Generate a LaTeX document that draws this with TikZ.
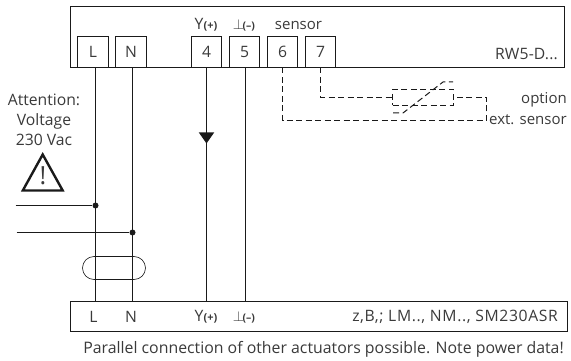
\documentclass[tikz,border=0pt]{standalone}
\usepackage{fontspec}
\setmainfont{Open Sans}
\usetikzlibrary{shapes.geometric}
\definecolor{ink}{HTML}{1A1A1A}
\definecolor{txt}{HTML}{3A3A3A}
\tikzset{
  wire/.style={draw=ink,line width=1.2pt},
  dashw/.style={draw=ink,line width=1pt,dash pattern=on 6pt off 3.5pt},
  term/.style={draw=ink,line width=1pt,minimum width=30pt,minimum height=31pt,inner sep=0pt,text=txt,font=\fontsize{15.7}{17}\selectfont},
  lab/.style={inner sep=0pt,text=txt,font=\fontsize{15.7}{20}\selectfont},
  small/.style={lab,font=\fontsize{15}{20}\selectfont},
  housing/.style={draw=ink,line width=1.2pt,inner sep=0pt},
  dot/.style={circle,fill=ink,inner sep=0pt,minimum size=6pt}
}
\newcommand{\plusm}{\textbf{\fontsize{11}{10}\selectfont(+)}}
\newcommand{\minusm}{{\fontsize{15}{15}\selectfont$\perp$}\kern-1.5pt\textbf{\fontsize{10.5}{10}\selectfont(–)}}
\begin{document}
\begin{tikzpicture}[x=1pt,y=-1pt]
\useasboundingbox (0,0) rectangle (571,361);
\node[housing,minimum width=494pt,minimum height=61pt] (top) at (317.5,37) {};
\node[housing,minimum width=497pt,minimum height=30pt] (bot) at (319,316.5) {};
\foreach \n/\x/\t/\w in {tL/93/L/31,tN/131/N/31,t4/206.5/4/30,t5/244.5/5/30,t6/282.5/6/30,t7/320.5/7/30}
  \node[term,minimum width=\w pt] (\n) at (\x,52) {\t};
\coordinate (aL) at (95.5,67.5);
\coordinate (aN) at (132.5,67.5);
\coordinate (aY) at (206.5,67.5);
\coordinate (aM) at (245.5,67.5);
\coordinate (bL) at (95.5,301.5);
\coordinate (bN) at (132.5,301.5);
\coordinate (bY) at (206.5,301.5);
\coordinate (bM) at (245.5,301.5);
\draw[wire] (aL) -- (bL);
\draw[wire] (aN) -- (bN);
\draw[wire] (aY) -- (bY);
\draw[wire] (aM) -- (bM);
\node[isosceles triangle,isosceles triangle apex angle=70,shape border rotate=-90,fill=ink,inner sep=0pt,minimum height=11pt,minimum width=14pt] (arr) at (206.5,136.5) {};
% supply
\node[dot] (jL) at (95.5,205.5) {};
\node[dot] (jN) at (132.5,232.5) {};
\coordinate (sL) at (15.5,205.5);
\coordinate (sN) at (16.5,232.5);
\draw[wire] (sL) -- (jL);
\draw[wire] (sN) -- (jN);
\node[draw=ink,line width=0.6pt,rounded corners=11.5pt,minimum width=63pt,minimum height=23pt,inner sep=0pt] (clamp) at (114,268) {};
% sensor
\coordinate (s6) at (282.5,67.5);
\coordinate (s7) at (320.5,67.5);
\coordinate (a6) at (282.5,120.5);
\coordinate (a7) at (320.5,97.5);
\node[dashw,minimum width=61pt,minimum height=16pt,inner sep=0pt] (ntc) at (423,97.5) {};
\coordinate (c1) at (486.5,120.5);
\coordinate (c2) at (486.5,97.5);
\draw[dashw] (s6) -- (a6) -- (c1) -- (c2) -- (ntc.east);
\draw[dashw] (s7) -- (a7) -- (ntc.west);
\coordinate (d1) at (393,113);
\coordinate (d2) at (403,113);
\coordinate (d3) at (443,82);
\coordinate (d4) at (453,82);
\draw[dashw] (d1) -- (d2) -- (d3) -- (d4);
% warning
\coordinate (w1) at (42.7,154.5);
\coordinate (w2) at (22.8,190.5);
\coordinate (w3) at (62.7,190.5);
\draw[draw=ink,line width=2.4pt,miter limit=10] (w1) -- (w2) -- (w3) -- cycle;
\node[lab,font=\fontsize{25}{25}\selectfont] (bang) at (43,176) {!};
% texts
\node[lab,align=center] (att) at (44,119.5) {Attention:\\Voltage\\230 Vac};
\node[lab] (y1) at (206,25) {Y\plusm};
\node[lab] (m1) at (244,25) {\minusm};
\node[small] (sens) at (298.5,25) {sensor};
\node[lab,anchor=east] (rw) at (558,54) {\addfontfeature{LetterSpace=1}RW5-D...};
\node[small,anchor=east] (opt) at (567,99.5) {option};
\node[small,anchor=east] (ext) at (567,120) {ext. sensor};
\node[lab] (l2) at (93.5,317) {L};
\node[lab] (n2) at (131,317) {N};
\node[lab] (y2) at (206,317) {Y\plusm};
\node[lab] (m2) at (244,317) {\minusm};
\node[lab,anchor=east] (mod) at (558,317) {\addfontfeature{LetterSpace=4}z,B,; LM.., NM.., SM230ASR};
\node[lab,anchor=east,font=\fontsize{15.85}{20}\selectfont] (note) at (564,349) {Parallel connection of other actuators possible. Note power data!};
\end{tikzpicture}
\end{document}
